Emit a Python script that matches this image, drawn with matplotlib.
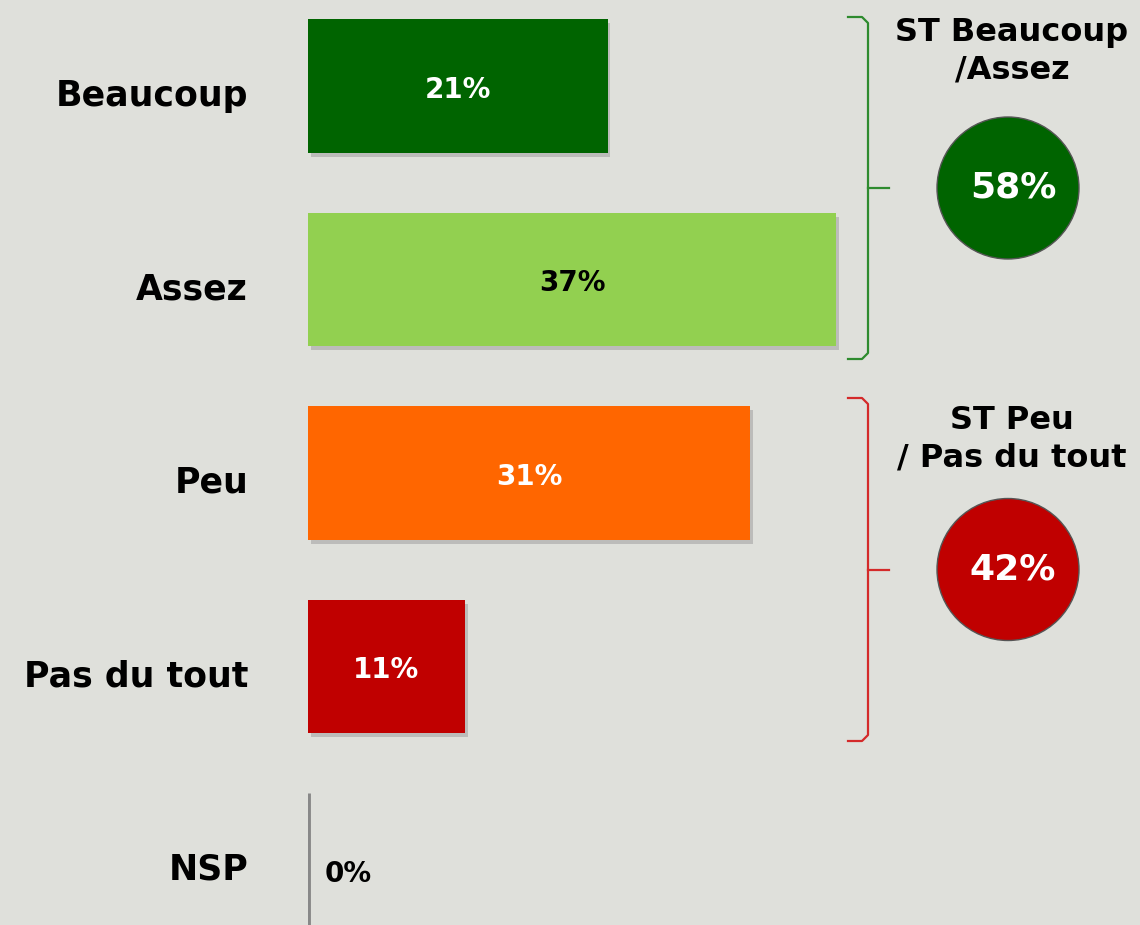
import matplotlib
matplotlib.use("Agg")
import matplotlib.pyplot as plt
import matplotlib.patheffects as pe
from matplotlib.patches import Circle

categories = ["Beaucoup", "Assez", "Peu", "Pas du tout", "NSP"]
values = [21, 37, 31, 11, 0]
bar_colors = ["#006400", "#92d050", "#ff6600", "#c00000", "#888888"]
text_colors = ["white", "black", "white", "white", "black"]

group_titles = ["ST Beaucoup\n/Assez", "ST Peu\n/ Pas du tout"]
group_values = [58, 42]
group_colors = ["#006400", "#c00000"]
bracket_colors = ["#2e8b2e", "#d42a2a"]

BG = "#dfe0db"
W, H = 1140, 925
fig = plt.figure(figsize=(W / 100, H / 100), dpi=100, facecolor=BG)

# main bar axes: x=0 sits at pixel 308, 14.27 px per percent
x0_px, px_per_pct = 308, 14.27
ax = fig.add_axes([x0_px / W, 0, 1 - x0_px / W, 1])
ax.set_facecolor("none")
ax.set_xlim(0, (W - x0_px) / px_per_pct)
ax.set_ylim((H - 86) / 193.5, -86 / 193.5)
for s in ax.spines.values():
    s.set_visible(False)
ax.set_xticks([])
ax.set_yticks([])

# category labels, right aligned a bit left of the bars, slightly below centre
label_x = -60 / px_per_pct
for i, c in enumerate(categories):
    ax.text(label_x, i + 0.05, c, ha="right", va="center", fontsize=25,
            fontweight="bold", clip_on=False)

bar_h = 0.69
shadow = [pe.SimplePatchShadow(offset=(2, -3), shadow_rgbFace="#9a9a9a", alpha=0.5), pe.Normal()]
bars = ax.barh(range(len(values)), values, height=bar_h, color=bar_colors, zorder=3)
for b in bars:
    b.set_path_effects(shadow)

for i, (v, tc) in enumerate(zip(values, text_colors)):
    if v > 0:
        ax.text(v / 2, i + 0.02, f"{v}%", ha="center", va="center", color=tc,
                fontsize=20, fontweight="bold", zorder=4)
    else:
        ax.text(1.2, i + 0.07, f"{v}%", ha="left", va="center", color=tc,
                fontsize=20, fontweight="bold", zorder=4)

# axis stub at NSP
ax.vlines(0, 4 - bar_h / 2, ax.get_ylim()[0], color="#888888", lw=3.5, zorder=2)

# overlay in pixel coordinates for brackets and circles
ov = fig.add_axes([0, 0, 1, 1])
ov.set_xlim(0, W)
ov.set_ylim(H, 0)
ov.axis("off")
ov.set_facecolor("none")

groups = [(17, 359), (398, 741)]
title_y = [51, 439]
for (top, bot), ty, title, gv, gc, bc in zip(groups, title_y, group_titles,
                                             group_values, group_colors, bracket_colors):
    mid = (top + bot) / 2
    xb = 868
    ov.plot([848, 862, xb, xb, 862, 848], [top, top, top + 6, bot - 6, bot, bot],
            color=bc, lw=1.6, solid_joinstyle="round")
    ov.plot([xb, 889], [mid, mid], color=bc, lw=1.6)
    ov.text(1012, ty, title, ha="center", va="center", fontsize=23,
            fontweight="bold", linespacing=1.25)
    ov.add_patch(Circle((1008, mid), 71, facecolor=gc, edgecolor="#555555", lw=1))
    ov.text(1013, mid, f"{gv}%", ha="center", va="center", color="white",
            fontsize=26, fontweight="bold")

fig.savefig("out.png", dpi=100, facecolor=BG)
